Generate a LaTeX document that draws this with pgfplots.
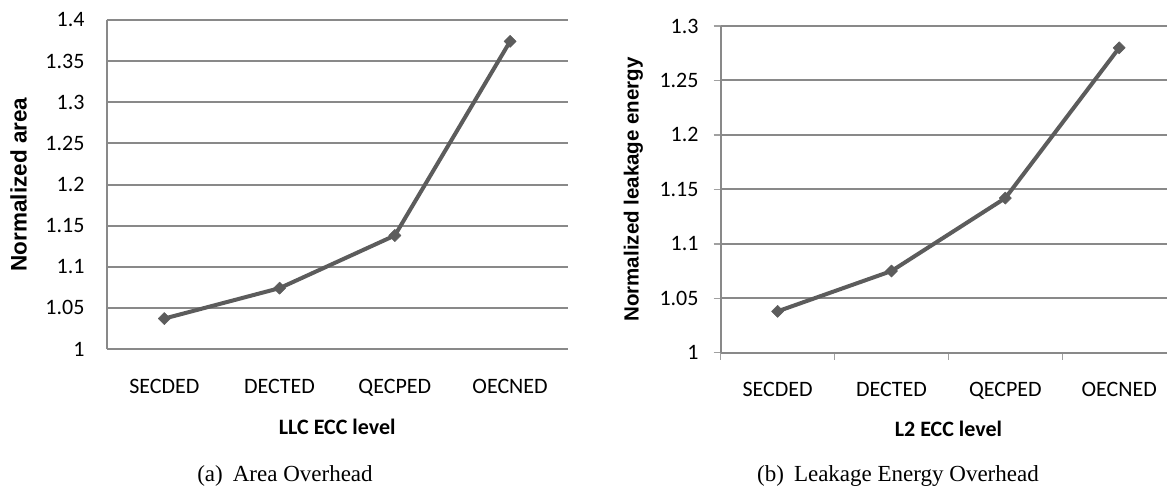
\documentclass[border=0pt]{standalone}
\usepackage{fontspec}
\setmainfont{Carlito}
\newfontfamily\arialf{Liberation Sans}
\newfontfamily\timesf{Liberation Serif}
\usepackage{pgfplots}
\pgfplotsset{compat=1.18}
\definecolor{gridc}{RGB}{137,137,137}
\definecolor{tickc}{RGB}{160,160,160}
\definecolor{linec}{RGB}{92,92,92}

\pgfplotsset{
  myax/.style={
    scale only axis,
    xmin=-0.5,
    ymin=1,
    axis x line*=bottom,
    axis y line*=left,
    axis line style={draw=gridc, line width=2pt, -},
    ymajorgrids,
    major grid style={draw=gridc, line width=2pt},
    xtick={0,1,2,3},
    xticklabels={SECDED,DECTED,QECPED,OECNED},
    x tick label style={anchor=base, inner sep=0pt, yshift=-44pt, font=\fontsize{22}{26}\selectfont},
    y tick label style={anchor=east, inner sep=0pt, xshift=-22pt, font=\fontsize{22}{26}\selectfont},
    major tick length=0pt,
    tick align=outside,
    every axis x label/.style={at={([yshift=-85pt]axis description cs:0.5,0)}, anchor=base, font=\fontsize{22}{26}\selectfont\bfseries},
  },
  mydata/.style={color=linec, line width=4pt, line join=round,
    mark=square*, mark size=4.3pt,
    mark options={rotate=45, solid, fill=linec, draw=linec, line width=0.5pt}},
}

\begin{document}
\begin{tikzpicture}
% ---------- (a) ----------
\begin{axis}[myax,
  at={(106.7pt,-349pt)}, anchor=south west,
  width=461pt, height=329pt,
  xmax=3.5, ymax=1.4,
  ytick={1,1.05,1.1,1.15,1.2,1.25,1.3,1.35,1.4},
  yticklabels={1,1.05,1.1,1.15,1.2,1.25,1.3,1.35,1.4},
  minor tick length=0pt,
  xlabel={LLC ECC level},
  ylabel={\arialf\bfseries Normalized area},
  every axis y label/.style={at={([xshift=-80pt]axis description cs:0,0.5)}, rotate=90, anchor=base, font=\fontsize{22.5}{26}\selectfont},
]
\addplot[mydata] coordinates {(0,1.037) (1,1.074) (2,1.138) (3,1.374)};
\end{axis}

% ---------- (b) ----------
\begin{axis}[myax,
  at={(720.7pt,-352.7pt)}, anchor=south west,
  width=446.3pt, height=326.7pt,
  xmax=3.42, ymax=1.3,
  ytick={1,1.05,1.1,1.15,1.2,1.25,1.3},
  yticklabels={1,1.05,1.1,1.15,1.2,1.25,1.3},
  minor xtick={-0.5,0.5,1.5,2.5},
  minor ytick={1,1.05,1.1,1.15,1.2,1.25,1.3},
  minor tick length=7pt,
  minor tick style={draw=tickc, line width=1.5pt},
  every axis x label/.style={at={([yshift=-84pt]axis description cs:0.5102,0)}, anchor=base, font=\fontsize{22}{26}\selectfont\bfseries},
  xlabel={L2 ECC level},
  ylabel={\arialf\bfseries Normalized leakage energy},
  every axis y label/.style={at={([xshift=-82pt]axis description cs:0,0.5)}, rotate=90, anchor=base, font=\fontsize{20.5}{24}\selectfont},
]
\addplot[mydata] coordinates {(0,1.038) (1,1.075) (2,1.142) (3,1.280)};
\end{axis}

\node[font=\timesf\fontsize{23}{27}\selectfont, anchor=base] at (285pt,-481pt) {(a)\hspace{10pt}Area Overhead};
\node[font=\timesf\fontsize{23}{27}\selectfont, anchor=base] at (898pt,-481pt) {(b)\hspace{10pt}Leakage Energy Overhead};

\pgfresetboundingbox
\path[use as bounding box] (0pt,0pt) rectangle (1167pt,-485pt);
\end{tikzpicture}
\end{document}
